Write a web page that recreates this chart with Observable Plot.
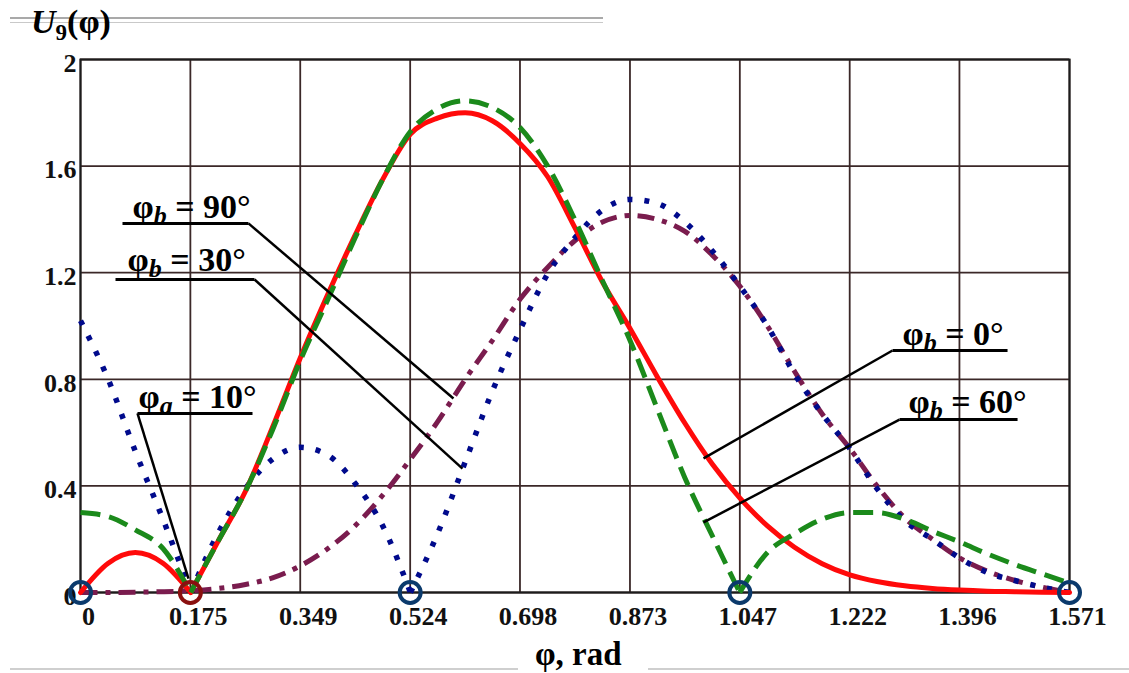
<!DOCTYPE html>
<html><head><meta charset="utf-8">
<script src="https://cdn.jsdelivr.net/npm/d3@7"></script>
<script src="https://cdn.jsdelivr.net/npm/@observablehq/plot@0.6"></script>
<style>
body{margin:0;background:#fff;}
#wrap{position:relative;width:1129px;height:673px;overflow:hidden;font-family:"Liberation Serif","Times New Roman",serif;background:#fff;}
#wrap svg{position:absolute;left:0;top:0;}
.ov{position:absolute;z-index:2;}
</style></head><body><div id="wrap"></div>
<script>
// angle φ (rad)
const phi = [0,0.044,0.087,0.131,0.175,0.218,0.262,0.305,0.349,0.393,0.436,0.480,0.524,0.567,0.611,0.654,0.698,0.742,0.785,0.829,0.873,0.916,0.960,1.004,1.047,1.091,1.134,1.178,1.222,1.265,1.309,1.353,1.396,1.440,1.484,1.527,1.571];
// φb = 0° (red, solid)
const U_b0 = [0,0.11,0.15,0.11,0,0.19,0.38,0.62,0.88,1.12,1.34,1.55,1.72,1.78,1.80,1.77,1.685,1.56,1.37,1.165,0.99,0.81,0.635,0.48,0.355,0.25,0.17,0.108,0.066,0.041,0.025,0.015,0.009,0.005,0.003,0.001,0];
// φb = 60° (green, dashed)
const U_b60 = [0.30,0.285,0.235,0.165,0,0.19,0.38,0.61,0.87,1.10,1.33,1.55,1.73,1.815,1.845,1.82,1.745,1.60,1.40,1.17,0.945,0.69,0.43,0.21,0,0.15,0.22,0.275,0.30,0.30,0.275,0.23,0.19,0.145,0.105,0.07,0.035];
// φb = 30° (blue, dotted)
const U_b30 = [1.02,0.80,0.53,0.275,0,0.22,0.39,0.50,0.545,0.515,0.41,0.25,0,0.22,0.49,0.755,0.985,1.195,1.33,1.435,1.475,1.46,1.39,1.28,1.15,1.00,0.82,0.67,0.54,0.39,0.27,0.20,0.13,0.075,0.045,0.02,0];
// φb = 90° (purple, dash-dot)
const U_b90 = [0,0,0.001,0.003,0.007,0.015,0.03,0.055,0.10,0.165,0.25,0.365,0.50,0.64,0.80,0.945,1.10,1.22,1.32,1.39,1.415,1.40,1.355,1.265,1.15,1.00,0.83,0.67,0.54,0.40,0.28,0.20,0.13,0.08,0.045,0.02,0];

const xTicks = [0,0.1745,0.349,0.5236,0.698,0.8727,1.0472,1.2217,1.396,1.5708];
const xTickLabels = ["0","0.175","0.349","0.524","0.698","0.873","1.047","1.222","1.396","1.571"];
const yTicks = [0,0.4,0.8,1.2,1.6,2];
const yTickLabels = ["0","0.4","0.8","1.2","1.6","2"];

// zero markers (hollow circles)
const blueMarkPhi = [0,0.5236,1.0472,1.5708];
const blueMarkU = [0,0,0,0];
const redMarkPhi = [0.1745];
const redMarkU = [0];

// annotations
const annText = ["φb = 90°","φb = 30°","φa = 10°","φb = 0°","φb = 60°"];
const annTextX = [0.0826,0.0747,0.0921,1.3056,1.3151];
const annTextY = [1.407,1.208,0.694,0.927,0.672];
const annLineX1 = [0.0667,0.0556,0.0905,1.2897,1.3008];
const annLineX2 = [0.2668,0.2764,0.2732,1.4724,1.4883];
const annLineY = [1.385,1.1745,0.672,0.908,0.649];
const annLeaderFrom = ["end","end","start","start","start"];
const annTargetX = [0.5924,0.6067,0.1715,0.9895,0.9895];
const annTargetY = [0.728,0.465,0.0525,0.503,0.263];

function series(vals){
  const rows=[]; let seg=0;
  vals.forEach((v,i)=>{
    rows.push({phi:phi[i],U:v,seg});
    if (v===0 && i>0 && i<vals.length-1 && vals[i-1]>0 && vals[i+1]>0){ seg++; rows.push({phi:phi[i],U:v,seg}); }
  });
  return rows;
}
const ann = annText.map((t,i)=>({t, tx:annTextX[i], ty:annTextY[i], ux1:annLineX1[i], ux2:annLineX2[i], uy:annLineY[i],
  lx: annLeaderFrom[i]==="end"?annLineX2[i]:annLineX1[i], px:annTargetX[i], py:annTargetY[i]}));

const gridColor = "#3b2828";
const chart = Plot.plot({
  width:1129, height:673,
  marginTop:59, marginBottom:81, marginLeft:80, marginRight:60,
  x:{domain:[0,1.5708], axis:null},
  y:{domain:[0,2], axis:null},
  style:{fontFamily:"'Liberation Serif','Times New Roman',serif", background:"transparent", color:"#111"},
  marks:[
    Plot.gridX(xTicks,{stroke:gridColor, strokeOpacity:1, strokeWidth:1.8}),
    Plot.gridY(yTicks,{stroke:gridColor, strokeOpacity:1, strokeWidth:1.8}),
    Plot.frame({stroke:"#1c1c1c", strokeWidth:2}),
    Plot.axisX(xTicks,{tickSize:0, tickPadding:14, dx:8, fontSize:26, fontWeight:"bold", tickFormat:d=>xTickLabels[xTicks.indexOf(d)]}),
    Plot.axisY(yTicks,{tickSize:0, tickPadding:4, dy:4, fontSize:26, fontWeight:"bold", tickFormat:d=>yTickLabels[yTicks.indexOf(d)]}),
    Plot.line(series(U_b90),{x:"phi",y:"U",z:"seg",stroke:"#7a1c4e",strokeWidth:5,strokeLinecap:"butt",strokeDasharray:"17,8,5,8",curve:"monotone-x"}),
    Plot.line(series(U_b30),{x:"phi",y:"U",z:"seg",stroke:"#000a8c",strokeWidth:5.5,strokeLinecap:"butt",strokeDasharray:"5,12",curve:"monotone-x"}),
    Plot.line(series(U_b0),{x:"phi",y:"U",z:"seg",stroke:"#ff0a0a",strokeWidth:5,curve:"monotone-x"}),
    Plot.line(series(U_b60),{x:"phi",y:"U",z:"seg",stroke:"#1b8a1b",strokeWidth:5,strokeLinecap:"butt",strokeDasharray:"20,9",curve:"monotone-x"}),
    Plot.text(ann,{x:"tx",y:"ty",text:"t",textAnchor:"start",lineAnchor:"bottom",fontSize:34,fontWeight:"bold",fill:"#000"}),
    Plot.link(ann,{x1:"ux1",x2:"ux2",y1:"uy",y2:"uy",stroke:"#000",strokeWidth:3}),
    Plot.link(ann,{x1:"lx",y1:"uy",x2:"px",y2:"py",stroke:"#000",strokeWidth:2.5}),
    Plot.dot(blueMarkPhi.map((p,i)=>({p,u:blueMarkU[i]})),{x:"p",y:"u",r:10.5,stroke:"#0b3a6c",strokeWidth:4,fill:"none"}),
    Plot.dot(redMarkPhi.map((p,i)=>({p,u:redMarkU[i]})),{x:"p",y:"u",r:10.5,stroke:"#8a1010",strokeWidth:4,fill:"none"})
  ]
});
const wrap = document.getElementById("wrap");
wrap.appendChild(chart);

// rich text for annotation labels (italic subscript) + white boxes
chart.querySelectorAll('g[aria-label="text"] text').forEach(t=>{
  const s = t.textContent;
  const m = s.match(/^φ([ab])(.*)$/);
  if (m){
    t.textContent = "";
    const ns="http://www.w3.org/2000/svg";
    const a=document.createElementNS(ns,"tspan"); a.textContent="φ"; t.appendChild(a);
    const b=document.createElementNS(ns,"tspan"); b.textContent=m[1]; b.setAttribute("font-style","italic"); b.setAttribute("font-size","26"); b.setAttribute("dy","6"); t.appendChild(b);
    const c=document.createElementNS(ns,"tspan"); c.textContent=m[2]; c.setAttribute("dy","-6"); t.appendChild(c);
  }
  const bb = t.getBBox();
  const r = document.createElementNS("http://www.w3.org/2000/svg","rect");
  r.setAttribute("x",bb.x-10); r.setAttribute("y",bb.y-2); r.setAttribute("width",bb.width+20); r.setAttribute("height",bb.height+2);
  r.setAttribute("fill","#fff");
  t.parentNode.insertBefore(r,t);
});

// decorations and titles
function div(style, html){ const d=document.createElement("div"); d.className="ov"; d.setAttribute("style",style); if(html) d.innerHTML=html; wrap.appendChild(d); return d; }
div("left:10px;top:17px;width:593px;height:1.5px;background:#a9a9a9;");
div("left:10px;top:21.5px;width:593px;height:1.5px;background:#c9c9c9;");
div("left:10px;top:668px;width:508px;height:2px;background:#cfcfcf;");
div("left:648px;top:668px;width:481px;height:2px;background:#cfcfcf;");
div("left:31px;top:2px;font:bold 34px 'Liberation Serif',serif;line-height:40px;color:#000;white-space:nowrap;",
  "<i>U</i><span style='font-size:23px;position:relative;top:7px;'>9</span>(φ)");
div("left:535px;top:636px;font:bold 33px 'Liberation Serif',serif;line-height:36px;color:#000;white-space:nowrap;", "φ, rad");
</script></body></html>
